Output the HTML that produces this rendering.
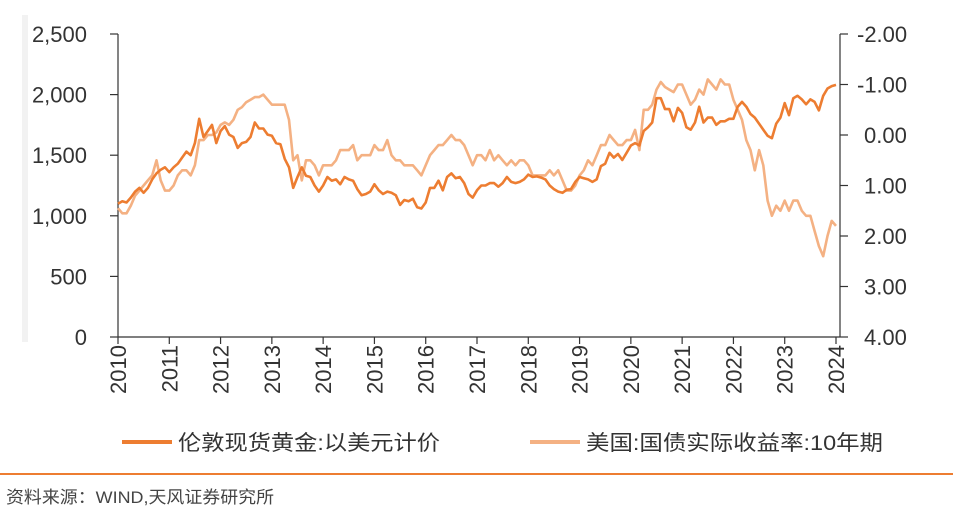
<!DOCTYPE html>
<html><head><meta charset="utf-8">
<style>
html,body{margin:0;padding:0;background:#fff;}
svg{display:block;font-family:"Liberation Sans","Noto Sans CJK SC",sans-serif;}
</style></head>
<body>
<svg id="chart" width="953" height="529" viewBox="0 0 953 529" xmlns="http://www.w3.org/2000/svg">
<rect x="22" y="15" width="6" height="327" fill="#f2f2f2"/>
<g id="axes"></g>
<g id="series"></g>
<g>
<line x1="122" y1="442" x2="172" y2="442" stroke="#ED7D31" stroke-width="4"/>
<text x="178" y="450" font-size="21" fill="#333" textLength="262" lengthAdjust="spacingAndGlyphs">伦敦现货黄金:以美元计价</text>
<line x1="530" y1="442" x2="580" y2="442" stroke="#F4B183" stroke-width="4"/>
<text x="586" y="450" font-size="21" fill="#333" textLength="297" lengthAdjust="spacingAndGlyphs">美国:国债实际收益率:10年期</text>
</g>
<rect x="0" y="473" width="953" height="2" fill="#ED7D31"/>
<text x="6" y="503" font-size="17" fill="#444" textLength="268" lengthAdjust="spacingAndGlyphs">资料来源：WIND,天风证券研究所</text>
</svg>
<script>
const years = [2010,2011,2012,2013,2014,2015,2016,2017,2018,2019,2020,2021,2022,2023,2024];
const leftTicks = [0,500,1000,1500,2000,2500];
const leftTickLabels = ["0","500","1,000","1,500","2,000","2,500"];
const rightTicks = [-2,-1,0,1,2,3,4];
const rightTickLabels = ["-2.00","-1.00","0.00","1.00","2.00","3.00","4.00"];
const goldMonthly = [
1100,1120,1110,1150,1200,1230,1190,1230,1300,1350,1380,1400,
1360,1400,1430,1480,1530,1500,1600,1800,1650,1700,1750,1600,
1700,1740,1670,1650,1560,1600,1610,1650,1770,1720,1720,1670,
1660,1600,1590,1470,1400,1230,1320,1400,1330,1320,1250,1200,
1250,1320,1290,1300,1260,1320,1300,1290,1220,1170,1180,1200,
1260,1210,1180,1200,1190,1170,1090,1130,1120,1140,1070,1060,
1110,1230,1230,1290,1210,1320,1350,1310,1320,1270,1180,1150,
1210,1250,1250,1270,1270,1240,1270,1320,1280,1270,1280,1300,
1340,1320,1325,1315,1300,1250,1220,1200,1190,1215,1220,1280,
1320,1310,1300,1280,1300,1410,1430,1520,1480,1510,1460,1520,
1580,1600,1580,1700,1730,1770,1970,1970,1880,1880,1780,1890,
1850,1730,1710,1770,1900,1770,1810,1810,1750,1780,1780,1800,
1800,1900,1940,1900,1840,1810,1760,1710,1660,1640,1760,1810,
1930,1830,1970,1990,1960,1920,1960,1940,1870,1990,2050,2070,
2080];
const yieldMonthly = [
1.45,1.55,1.55,1.4,1.2,1.1,1.0,0.9,0.8,0.5,0.9,1.1,
1.1,1.0,0.8,0.7,0.7,0.8,0.6,0.1,0.1,0.0,0.0,-0.05,
-0.2,-0.25,-0.2,-0.3,-0.5,-0.55,-0.65,-0.7,-0.75,-0.75,-0.8,-0.7,
-0.6,-0.6,-0.6,-0.6,-0.3,0.5,0.4,0.9,0.5,0.5,0.6,0.8,
0.6,0.6,0.6,0.5,0.3,0.3,0.3,0.2,0.5,0.4,0.4,0.4,
0.2,0.3,0.3,0.1,0.4,0.5,0.5,0.6,0.6,0.6,0.7,0.8,
0.6,0.4,0.3,0.2,0.2,0.1,0.0,0.1,0.1,0.2,0.4,0.6,
0.4,0.4,0.5,0.3,0.5,0.4,0.5,0.6,0.5,0.6,0.5,0.5,
0.6,0.8,0.8,0.8,0.8,0.7,0.8,0.7,0.9,1.1,1.1,1.0,
0.8,0.7,0.5,0.6,0.4,0.2,0.2,0.0,0.1,0.2,0.2,0.1,
0.1,-0.1,0.3,-0.5,-0.5,-0.6,-0.9,-1.05,-0.95,-0.9,-0.85,-1.0,
-1.0,-0.8,-0.6,-0.7,-0.9,-0.8,-1.1,-1.0,-0.9,-1.1,-1.0,-1.0,
-0.7,-0.5,-0.3,0.1,0.3,0.7,0.3,0.6,1.3,1.6,1.4,1.5,
1.3,1.5,1.3,1.3,1.5,1.6,1.6,1.9,2.2,2.4,2.0,1.7,
1.8];

const NS="http://www.w3.org/2000/svg";
const X0=118, X1=836, YT=34, YB=337, XR=840;
const xScale = t => X0 + (t-2010)/(2024-2010)*(X1-X0);
const yLeft = v => YB - v/2500*(YB-YT);
const yRight = v => YT + (v+2)/6*(YB-YT);
function mk(tag, attrs, parent){const e=document.createElementNS(NS,tag);for(const k in attrs)e.setAttribute(k,attrs[k]);parent.appendChild(e);return e;}
const axes=document.getElementById('axes');
const series=document.getElementById('series');

let e;
e=mk('line',{x1:X0,y1:YT,x2:X0,y2:YB,stroke:'#333','stroke-width':1.2},axes);


e=mk('line',{x1:XR,y1:YT,x2:XR,y2:YB,stroke:'#333','stroke-width':1.2},axes);


e=mk('line',{x1:X0,y1:YB,x2:XR,y2:YB,stroke:'#333','stroke-width':1.2},axes);



leftTicks.forEach((v,i)=>{
  const y=yLeft(v);
  e=mk('line',{x1:X0-8,y1:y,x2:X0,y2:y,stroke:'#333','stroke-width':1.2},axes);
  
  
  e=mk('text',{x:87,y:y+8,'font-size':22,'text-anchor':'end',fill:'#333'},axes);
  e.textContent=leftTickLabels[i];
  
  
});
rightTicks.forEach((v,i)=>{
  const y=yRight(v);
  e=mk('line',{x1:XR,y1:y,x2:XR+8,y2:y,stroke:'#333','stroke-width':1.2},axes);
  
  
  e=mk('text',{x:v<0?857:864,y:y+8,'font-size':22,fill:'#333'},axes);
  e.textContent=rightTickLabels[i];
  
  
});
years.forEach(yr=>{
  const x=xScale(yr);
  e=mk('line',{x1:x,y1:YB,x2:x,y2:YB+7,stroke:'#333','stroke-width':1.2},axes);
  
  
  e=mk('text',{x:0,y:0,'font-size':22,'text-anchor':'end',fill:'#333',transform:`translate(${x+8},${YB+8}) rotate(-90)`},axes);
  e.textContent=String(yr);
  
  
});

function pathFrom(arr, ys){return arr.map((v,i)=>(i?'L':'M')+xScale(2010+i/12).toFixed(1)+','+ys(v).toFixed(1)).join('');}
e=mk('path',{d:pathFrom(yieldMonthly,yRight),fill:'none',stroke:'#F4B183','stroke-width':2.6,'stroke-linejoin':'round'},series);


e=mk('path',{d:pathFrom(goldMonthly,yLeft),fill:'none',stroke:'#ED7D31','stroke-width':2.6,'stroke-linejoin':'round'},series);


</script>
</body></html>
